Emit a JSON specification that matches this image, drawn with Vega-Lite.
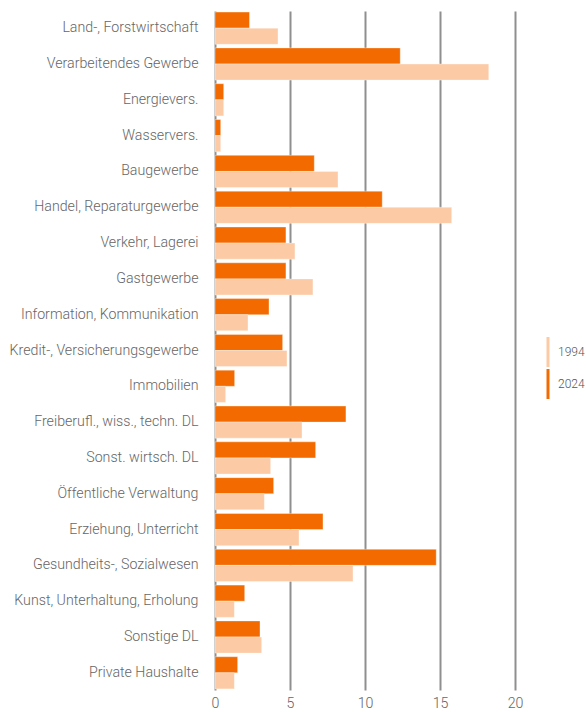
{
  "$schema": "https://vega.github.io/schema/vega-lite/v6.json",
  "autosize": {"type": "none"},
  "padding": {"left": 215, "top": 11, "right": 71, "bottom": 22},
  "width": 300,
  "height": 679,
  "background": "white",
  "config": {
    "view": {"stroke": null},
    "font": "Roboto",
    "axis": {"labelFont": "Roboto", "labelFontWeight": 300, "labelColor": "#666666"},
    "legend": {"labelFont": "Roboto", "labelFontWeight": 300, "labelColor": "#555555"}
  },
  "data": {
    "values": [
      {"sector": "Land-, Forstwirtschaft", "year": "2024", "value": 2.3},
      {"sector": "Land-, Forstwirtschaft", "year": "1994", "value": 4.2},
      {"sector": "Verarbeitendes Gewerbe", "year": "2024", "value": 12.35},
      {"sector": "Verarbeitendes Gewerbe", "year": "1994", "value": 18.25},
      {"sector": "Energievers.", "year": "2024", "value": 0.58},
      {"sector": "Energievers.", "year": "1994", "value": 0.58},
      {"sector": "Wasservers.", "year": "2024", "value": 0.38},
      {"sector": "Wasservers.", "year": "1994", "value": 0.38},
      {"sector": "Baugewerbe", "year": "2024", "value": 6.62},
      {"sector": "Baugewerbe", "year": "1994", "value": 8.2},
      {"sector": "Handel, Reparaturgewerbe", "year": "2024", "value": 11.15},
      {"sector": "Handel, Reparaturgewerbe", "year": "1994", "value": 15.78},
      {"sector": "Verkehr, Lagerei", "year": "2024", "value": 4.73},
      {"sector": "Verkehr, Lagerei", "year": "1994", "value": 5.33},
      {"sector": "Gastgewerbe", "year": "2024", "value": 4.73},
      {"sector": "Gastgewerbe", "year": "1994", "value": 6.53},
      {"sector": "Information, Kommunikation", "year": "2024", "value": 3.6},
      {"sector": "Information, Kommunikation", "year": "1994", "value": 2.2},
      {"sector": "Kredit-, Versicherungsgewerbe", "year": "2024", "value": 4.51},
      {"sector": "Kredit-, Versicherungsgewerbe", "year": "1994", "value": 4.8},
      {"sector": "Immobilien", "year": "2024", "value": 1.31},
      {"sector": "Immobilien", "year": "1994", "value": 0.71},
      {"sector": "Freiberufl., wiss., techn. DL", "year": "2024", "value": 8.73},
      {"sector": "Freiberufl., wiss., techn. DL", "year": "1994", "value": 5.8},
      {"sector": "Sonst. wirtsch. DL", "year": "2024", "value": 6.71},
      {"sector": "Sonst. wirtsch. DL", "year": "1994", "value": 3.71},
      {"sector": "Öffentliche Verwaltung", "year": "2024", "value": 3.91},
      {"sector": "Öffentliche Verwaltung", "year": "1994", "value": 3.29},
      {"sector": "Erziehung, Unterricht", "year": "2024", "value": 7.2},
      {"sector": "Erziehung, Unterricht", "year": "1994", "value": 5.6},
      {"sector": "Gesundheits-, Sozialwesen", "year": "2024", "value": 14.75},
      {"sector": "Gesundheits-, Sozialwesen", "year": "1994", "value": 9.2},
      {"sector": "Kunst, Unterhaltung, Erholung", "year": "2024", "value": 1.98},
      {"sector": "Kunst, Unterhaltung, Erholung", "year": "1994", "value": 1.29},
      {"sector": "Sonstige DL", "year": "2024", "value": 3.0},
      {"sector": "Sonstige DL", "year": "1994", "value": 3.11},
      {"sector": "Private Haushalte", "year": "2024", "value": 1.51},
      {"sector": "Private Haushalte", "year": "1994", "value": 1.29}
    ]
  },
  "mark": {"type": "bar", "stroke": "white", "strokeWidth": 0.6, "strokeOpacity": 0.6},
  "encoding": {
    "y": {
      "field": "sector",
      "type": "nominal",
      "sort": null,
      "scale": {"paddingInner": 0.1, "paddingOuter": 0.03},
      "axis": {"title": null, "ticks": false, "domain": false, "labelPadding": 17, "labelFontSize": 14.2, "labelLimit": 230}
    },
    "yOffset": {
      "field": "year",
      "type": "nominal",
      "sort": ["2024", "1994"]
    },
    "x": {
      "field": "value",
      "type": "quantitative",
      "scale": {"domain": [0, 20], "nice": false},
      "axis": {"title": null, "values": [0, 5, 10, 15, 20], "ticks": false, "domain": false, "grid": true, "gridColor": "#8f8f8f", "gridWidth": 2, "labelPadding": 6, "labelFontSize": 14.2, "labelFlush": false}
    },
    "color": {
      "field": "year",
      "type": "nominal",
      "scale": {"domain": ["1994", "2024"], "range": ["#FCCAA5", "#F36B00"]},
      "legend": {
        "title": null,
        "orient": "none",
        "legendX": 318,
        "legendY": 326,
        "symbolType": "M-0.1,-1L0.1,-1L0.1,1L-0.1,1Z",
        "symbolSize": 900,
        "symbolStrokeWidth": 0,
        "rowPadding": 2,
        "labelFontSize": 12,
        "labelOffset": -5,
        "labelLimit": 60
      }
    }
  }
}
